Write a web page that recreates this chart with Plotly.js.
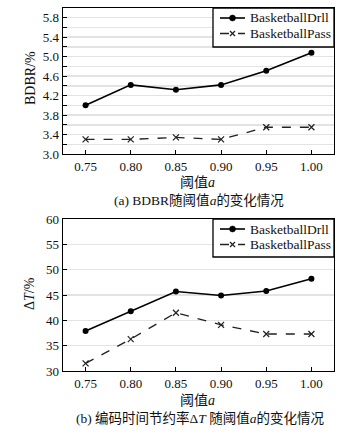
<!DOCTYPE html>
<html><head><meta charset="utf-8">
<script src="https://cdn.plot.ly/plotly-3.0.1.min.js"></script>
<style>html,body{margin:0;padding:0;background:#fff}#c{width:361px;height:435px}</style>
</head><body><div id="c"></div>
<script>
var thresholds = [0.75, 0.80, 0.85, 0.90, 0.95, 1.00];
var tickLabels = ['0.75', '0.80', '0.85', '0.90', '0.95', '1.00'];
var bdbrDrill = [4.00, 4.42, 4.32, 4.42, 4.71, 5.08];
var bdbrPass = [3.30, 3.30, 3.34, 3.30, 3.55, 3.55];
var dtDrill = [37.9, 41.8, 45.7, 44.9, 45.8, 48.2];
var dtPass = [31.5, 36.3, 41.5, 39.1, 37.3, 37.3];
var seriesNames = ['BasketballDrll', 'BasketballPass'];

var FONT = 'Liberation Serif, Times New Roman, Noto Sans CJK SC, serif';
var solidLine = {color: '#000', width: 1.6, dash: 'solid'};
var dashLine = {color: '#222', width: 1.3, dash: 'dash'};
var dotMarker = {symbol: 'circle', size: 6, color: '#000'};
var xMarker = {symbol: 'x-thin', size: 6, line: {color: '#222', width: 1.2}};

var traces = [
  {x: thresholds, y: bdbrDrill, name: seriesNames[0], mode: 'lines+markers', line: solidLine, marker: dotMarker, xaxis: 'x', yaxis: 'y', showlegend: false},
  {x: thresholds, y: bdbrPass, name: seriesNames[1], mode: 'lines+markers', line: dashLine, marker: xMarker, xaxis: 'x', yaxis: 'y', showlegend: false},
  {x: thresholds, y: dtDrill, name: seriesNames[0], mode: 'lines+markers', line: solidLine, marker: dotMarker, xaxis: 'x2', yaxis: 'y2', showlegend: false},
  {x: thresholds, y: dtPass, name: seriesNames[1], mode: 'lines+markers', line: dashLine, marker: xMarker, xaxis: 'x2', yaxis: 'y2', showlegend: false}
];

var W = 361, H = 435;
function px(x){return x / W;}
function py(y){return 1 - y / H;}

var xdom = [px(63), px(334)];
var TICKFONT = {family: FONT, size: 13, color: '#111'};
var commonX = {
  range: [0.725, 1.025], tickvals: thresholds, ticktext: tickLabels,
  showgrid: false, zeroline: false, showline: true, linecolor: '#000', linewidth: 1.3, mirror: true,
  ticks: 'inside', ticklen: 4, tickcolor: '#000', tickfont: TICKFONT, fixedrange: true
};
var commonY = {
  showgrid: true, gridcolor: '#e3e3e3', gridwidth: 1.5, zeroline: false,
  showline: true, linecolor: '#000', linewidth: 1.3, mirror: true,
  ticks: 'inside', ticklen: 4, tickcolor: '#000', tickfont: TICKFONT, fixedrange: true
};

function ann(text, x, y, size, extra){
  return Object.assign({text: text, xref: 'paper', yref: 'paper', x: px(x), y: py(y), xanchor: 'center', yanchor: 'middle',
    showarrow: false, font: {family: FONT, size: size, color: '#111'}}, extra || {});
}

var layout = {
  width: W, height: H, margin: {l: 0, r: 0, t: 0, b: 0},
  paper_bgcolor: '#fff', plot_bgcolor: '#fff', showlegend: false,
  xaxis: Object.assign({}, commonX, {domain: xdom, anchor: 'y'}),
  yaxis: Object.assign({}, commonY, {domain: [py(154), py(8)], anchor: 'x', range: [3.0, 6.0],
    tickvals: [3.0, 3.4, 3.8, 4.2, 4.6, 5.0, 5.4, 5.8], ticktext: ['3.0','3.4','3.8','4.2','4.6','5.0','5.4','5.8'],
    minor: {dtick: 0.2, tick0: 3.0, ticks: 'inside', ticklen: 4, tickcolor: '#000', showgrid: true, gridcolor: '#e3e3e3', gridwidth: 1.5}}),
  xaxis2: Object.assign({}, commonX, {domain: xdom, anchor: 'y2'}),
  yaxis2: Object.assign({}, commonY, {domain: [py(371), py(219)], anchor: 'x2', range: [30, 60], dtick: 5, tick0: 30}),
  shapes: [],
  annotations: [
    ann('BDBR/%', 30, 78, 14, {textangle: -90}),
    ann('Δ<i>T</i>/%', 29, 294, 14, {textangle: -90}),
    ann('阈值<i>a</i>', 197, 183, 14),
    ann('(a) BDBR随阈值<i>a</i>的变化情况', 199, 200, 13.5),
    ann('阈值<i>a</i>', 197, 400, 14),
    ann('(b) 编码时间节约率Δ<i>T</i> 随阈值<i>a</i>的变化情况', 200, 418, 13.5)
  ]
};

function legendBox(top, bottom){
  layout.shapes.push({type: 'rect', xref: 'paper', yref: 'paper', x0: px(213), x1: px(334), y0: py(bottom), y1: py(top), line: {color: '#000', width: 1.3}, fillcolor: '#fff', layer: 'above'});
  var y1 = top + 10, y2 = top + 25.5;
  layout.shapes.push({type: 'line', xref: 'paper', yref: 'paper', x0: px(220), x1: px(245), y0: py(y1), y1: py(y1), line: {color: '#000', width: 1.6}, layer: 'above'});
  layout.shapes.push({type: 'circle', xref: 'paper', yref: 'paper', x0: px(229.5), x1: px(235.5), y0: py(y1 + 3), y1: py(y1 - 3), fillcolor: '#000', line: {color: '#000', width: 0.5}, layer: 'above'});
  layout.shapes.push({type: 'line', xref: 'paper', yref: 'paper', x0: px(220), x1: px(245), y0: py(y2), y1: py(y2), line: {color: '#222', width: 1.3, dash: 'dash'}, layer: 'above'});
  layout.shapes.push({type: 'line', xref: 'paper', yref: 'paper', x0: px(230), x1: px(235), y0: py(y2 - 2.5), y1: py(y2 + 2.5), line: {color: '#222', width: 1.2}, layer: 'above'});
  layout.shapes.push({type: 'line', xref: 'paper', yref: 'paper', x0: px(230), x1: px(235), y0: py(y2 + 2.5), y1: py(y2 - 2.5), line: {color: '#222', width: 1.2}, layer: 'above'});
  layout.annotations.push(ann(seriesNames[0], 248, y1, 13.5, {xanchor: 'left'}));
  layout.annotations.push(ann(seriesNames[1], 248, y2, 13.5, {xanchor: 'left'}));
}
legendBox(8, 47);
legendBox(219, 257);

Plotly.newPlot('c', traces, layout, {staticPlot: true, displayModeBar: false});
</script></body></html>
